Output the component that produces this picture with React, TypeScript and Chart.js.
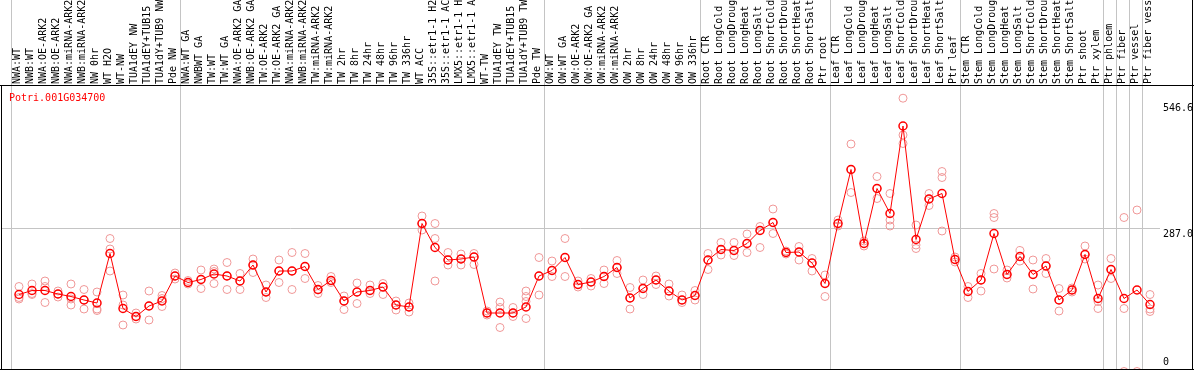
import React, { useEffect, useRef } from 'react';
import { Chart, registerables } from 'chart.js';
Chart.register(...registerables);

const title = 'Potri.001G034700';

const categories = [
  'NWA:WT', 'NWB:WT', 'NWA:OE-ARK2', 'NWB:OE-ARK2', 'NWA:miRNA-ARK2', 'NWB:miRNA-ARK2', 'NW 0hr', 'WT H2O', 'WT-NW',
  'TUA1dEY NW', 'TUA1dEY+TUB15 NW', 'TUA1dY+TUB9 NW', 'Pde NW',
  'NWA:WT GA', 'NWBWT GA', 'TW:WT', 'TW:WT GA', 'NWA:OE-ARK2 GA', 'NWB:OE-ARK2 GA', 'TW:OE-ARK2', 'TW:OE-ARK2 GA',
  'NWA:miRNA-ARK2 GA', 'NWB:miRNA-ARK2 GA', 'TW:miRNA-ARK2', 'TW:miRNA-ARK2 GA', 'TW 2hr', 'TW 8hr', 'TW 24hr', 'TW 48hr',
  'TW 96hr', 'TW 336hr', 'WT ACC', '35S::etr1-1 H2O', '35S::etr1-1 ACC', 'LMX5::etr1-1 H2O', 'LMX5::etr1-1 ACC', 'WT-TW',
  'TUA1dEY TW', 'TUA1dEY+TUB15 TW', 'TUA1dY+TUB9 TW', 'Pde TW',
  'OW:WT', 'OW:WT GA', 'OW:OE-ARK2', 'OW:OE-ARK2 GA', 'OW:miRNA-ARK2', 'OW:miRNA-ARK2 GA', 'OW 2hr', 'OW 8hr', 'OW 24hr',
  'OW 48hr', 'OW 96hr', 'OW 336hr',
  'Root CTR', 'Root LongCold', 'Root LongDrought', 'Root LongHeat', 'Root LongSalt', 'Root ShortCold', 'Root ShortDrought',
  'Root ShortHeat', 'Root ShortSalt', 'Ptr root',
  'Leaf CTR', 'Leaf LongCold', 'Leaf LongDrought', 'Leaf LongHeat', 'Leaf LongSalt', 'Leaf ShortCold', 'Leaf ShortDrought',
  'Leaf ShortHeat', 'Leaf ShortSalt', 'Ptr leaf',
  'Stem CTR', 'Stem LongCold', 'Stem LongDrought', 'Stem LongHeat', 'Stem LongSalt', 'Stem ShortCold', 'Stem ShortDrought',
  'Stem ShortHeat', 'Stem ShortSalt', 'Ptr shoot', 'Ptr xylem', 'Ptr phloem', 'Ptr fiber', 'Ptr vessel', 'Ptr fiber vessel',
];

// index of the first category of each group (a separator is drawn before it)
const groupStarts = [0, 13, 41, 53, 63, 73, 84, 85, 86, 87];

const meanValues = [
  154, 162, 162, 155, 150, 143, 137, 236, 126, 110,
  131, 141, 191, 178, 184, 195, 191, 181, 213, 159,
  201, 201, 210, 164, 182, 141, 159, 162, 169, 133,
  129, 296, 248, 223, 225, 229, 117, 117, 117, 129,
  191, 202, 228, 174, 179, 190, 208, 147, 166, 183,
  161, 143, 152, 223, 244, 242, 256, 282, 298, 238,
  239, 217, 176, 296, 404, 256, 366, 316, 491, 264,
  345, 356, 224, 160, 183, 276, 194, 230, 194, 211,
  143, 163, 234, 146, 204, 146, 163, 134,
];

const repA = [
  170, 175, 181, 161, 175, 164, 159, 266, 153, 117,
  161, 152, 197, 182, 203, 205, 218, 196, 225, 173,
  223, 238, 236, 172, 190, 151, 177, 173, 176, 141,
  137, 311, 296, 238, 235, 236, 121, 139, 128, 161,
  228, 221, 266, 181, 186, 203, 222, 168, 183, 191,
  175, 153, 162, 236, 258, 258, 275, 290, 325, 241,
  250, 226, 193, 303, 455, 261, 390, 356, 546.6, 293,
  356, 400, 229, 170, 196, 316, 203, 242, 223, 226,
  166, 167, 251, 173, 226, 308, 323, 154,
];

const repB = [
  148, 156, 170, 155, 145, 143, 125, 245, 133, 110,
  131, 146, 191, 178, 184, 200, 191, 181, 213, 159,
  201, 201, 210, 163, 182, 141, 159, 162, 169, 133,
  129, 296, 266, 223, 225, 229, 117, 128, 117, 150,
  191, 202, 228, 174, 179, 190, 208, 147, 166, 183,
  161, 143, 152, 223, 244, 242, 256, 282, 298, 238,
  239, 217, 176, 296, 404, 256, 366, 303, 473, 253,
  345, 388, 224, 160, 183, 308, 194, 230, 194, 211,
  143, 163, 234, 140, 204, 126, 0, 125,
];

const repC = [
  145, 154, 138, 149, 133, 125, 122, 201, 93, 105,
  103, 130, 185, 175, 166, 176, 164, 164, 198, 148,
  178, 164, 186, 156, 178, 124, 136, 156, 154, 123,
  119, 283, 181, 213, 213, 214, 113, 88, 110, 140,
  153, 190, 190, 169, 171, 176, 196, 125, 154, 174,
  151, 138, 143, 204, 233, 232, 238, 248, 276, 235,
  223, 201, 150, 291, 358, 251, 346, 291, 456, 246,
  332, 281, 219, 148, 161, 205, 187, 221, 165, 196,
  121, 159, 225, 126, 186, 0, null, 120,
];

const repD = categories.map((_, i) => (i === 39 ? 106 : null));

const yTickValues = [546.6, 287, 0];
const yTickLabels = ['546.6', '287.0', '0'];

const MONO = '"DejaVu Sans Mono", monospace';

export default function App() {
  const ref = useRef<HTMLCanvasElement>(null);

  useEffect(() => {
    document.body.style.margin = '0';
    const canvas = ref.current!;

    const toPts = (arr: (number | null)[]) =>
      arr.map((v, i) => (v == null ? null : { x: i, y: v })).filter((p) => p !== null);

    const repDatasets = [repA, repB, repC, repD].map((arr) => ({
      type: 'scatter' as const,
      data: toPts(arr as (number | null)[]),
      showLine: false,
      pointRadius: 4,
      pointHoverRadius: 4,
      pointBorderColor: '#f09898',
      pointBackgroundColor: 'rgba(0,0,0,0)',
      pointBorderWidth: 1,
      order: 2,
    }));

    const meanDataset = {
      type: 'line' as const,
      data: meanValues.map((v, i) => ({ x: i, y: v })),
      borderColor: '#ff0000',
      borderWidth: 1,
      pointRadius: 4,
      pointHoverRadius: 4,
      pointBorderColor: '#ff0000',
      pointBackgroundColor: 'rgba(0,0,0,0)',
      pointBorderWidth: 1.5,
      tension: 0,
      order: 1,
    };

    const framePlugin = {
      id: 'frame',
      beforeDatasetsDraw(chart: any) {
        const ctx = chart.ctx;
        const xs = chart.scales.x;
        ctx.save();
        ctx.strokeStyle = '#c4c4c4';
        ctx.lineWidth = 1;
        groupStarts.forEach((g) => {
          const px = Math.round(xs.getPixelForValue(g - 0.62)) + 0.5;
          ctx.beginPath();
          ctx.moveTo(px, 0);
          ctx.lineTo(px, chart.height);
          ctx.stroke();
        });
        ctx.restore();
      },
      afterDraw(chart: any) {
        const ctx = chart.ctx;
        const { left, top, right } = chart.chartArea;
        const ys = chart.scales.y;
        ctx.save();
        ctx.fillStyle = '#000';
        ctx.fillRect(0, top - 1, chart.width, 1);
        ctx.fillRect(left, top - 1, 1, chart.height - top + 1);
        ctx.fillRect(0, chart.height - 1, chart.width, 1);
        ctx.fillRect(chart.width - 2, 0, 1, chart.height);

        ctx.font = '10px ' + MONO;
        ctx.textBaseline = 'alphabetic';
        ctx.textAlign = 'left';
        const offsets = [12.5, 9, -6.5];
        yTickValues.forEach((v, k) => {
          const py = ys.getPixelForValue(v) + offsets[k];
          ctx.fillText(yTickLabels[k], right + 3, py);
        });

        ctx.fillStyle = '#ff0000';
        ctx.fillText(title, left + 8, top + 15);
        ctx.restore();
      },
    };

    const chart = new Chart(canvas, {
      type: 'line',
      data: { datasets: [meanDataset as any, ...(repDatasets as any[])] },
      options: {
        responsive: false,
        animation: false,
        devicePixelRatio: 1,
        events: [],
        layout: { autoPadding: false, padding: { left: 1, right: 0, top: 0, bottom: 0 } },
        plugins: {
          legend: { display: false },
          tooltip: { enabled: false },
        },
        scales: {
          x: {
            type: 'linear',
            position: 'top',
            min: -1.3846,
            max: 87.769,
            afterBuildTicks: (scale: any) => {
              scale.ticks = categories.map((_, i) => ({ value: i }));
            },
            afterFit: (scale: any) => {
              scale.height = 86;
              scale.paddingLeft = 0;
              scale.paddingRight = 0;
            },
            ticks: {
              autoSkip: false,
              minRotation: 90,
              maxRotation: 90,
              padding: 2,
              labelOffset: 10.5,
              color: '#000',
              font: { family: MONO, size: 10 },
              callback: (v: any) => categories[v as number] ?? '',
            },
            grid: { display: false, drawTicks: false },
            border: { display: false },
          },
          y: {
            type: 'linear',
            position: 'right',
            min: 3,
            max: 571,
            afterBuildTicks: (scale: any) => {
              scale.ticks = [{ value: 287 }];
            },
            afterFit: (scale: any) => {
              scale.width = 34;
              scale.paddingTop = 0;
              scale.paddingBottom = 0;
            },
            ticks: { display: false },
            grid: { color: '#c4c4c4', lineWidth: 1, drawTicks: false },
            border: { display: false },
          },
        },
      },
      plugins: [framePlugin],
    });

    return () => chart.destroy();
  }, []);

  return (
    <canvas
      ref={ref}
      width={1194}
      height={370}
      style={{ display: 'block', width: 1194, height: 370 }}
    />
  );
}
